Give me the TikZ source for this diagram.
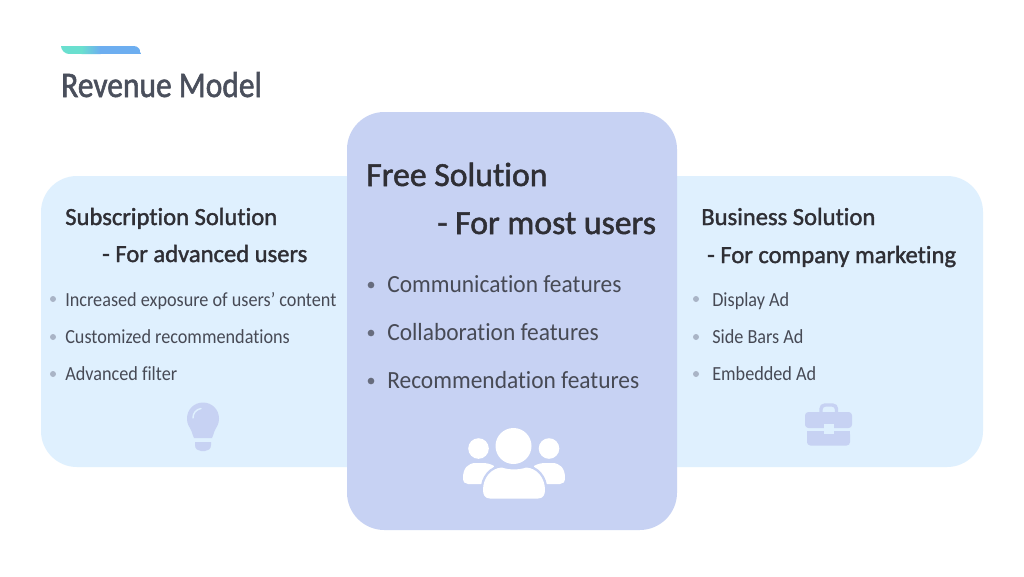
\documentclass[tikz,border=0pt]{standalone}
\usepackage{fontspec}
\setmainfont{Carlito}[RawFeature=-liga]
\newfontfamily\headfont{Carlito}[FakeBold=1.5,RawFeature=-liga]
\newfontfamily\titlefont{Carlito}[FakeBold=1.5,FakeStretch=0.875,RawFeature=-liga]
\newfontfamily\itemfont{Carlito}[FakeStretch=0.91,RawFeature=-liga]
\newfontfamily\bigitemfont{Carlito}[FakeStretch=0.95,RawFeature=-liga]
\definecolor{panelside}{HTML}{DFF0FE}
\definecolor{panelmid}{HTML}{C7D2F3}
\definecolor{titlecol}{HTML}{4A4F5C}
\definecolor{headcol}{HTML}{2F2F35}
\definecolor{bodycol}{HTML}{474A55}
\definecolor{dotcol}{HTML}{A9B4C6}
\definecolor{barteal}{HTML}{6ADFCF}
\definecolor{barblue}{HTML}{6DAEF0}
\tikzset{
  x=0.75pt,y=-0.75pt,
  txt/.style={inner sep=0pt,anchor=base west,text=bodycol},
  head/.style={txt,text=headcol,font=\headfont\fontsize{18.45}{22}\selectfont},
  bighead/.style={txt,text=headcol,font=\headfont\fontsize{25.3}{29}\selectfont},
  item/.style={txt,font=\itemfont\fontsize{15}{18}\selectfont},
  bigitem/.style={txt,font=\bigitemfont\fontsize{18.5}{22}\selectfont},
  dot/.style={circle,fill=dotcol,inner sep=0pt,minimum size=4.5pt},
  bigdot/.style={circle,fill=bodycol!75!panelmid,inner sep=0pt,minimum size=5pt},
  iconside/.style={fill=panelmid,draw=none},
  iconwhite/.style={fill=white,draw=none},
}
\begin{document}
\begin{tikzpicture}
\useasboundingbox (0,0) rectangle (1024,576);
\fill[white] (0,0) rectangle (1024,576);
% accent bar
\begin{scope}
\clip (61,46) -- (134,46) .. controls (138,46) and (141,50) .. (141,54) -- (69,54) .. controls (65,54) and (61,50) .. (61,46) -- cycle;
\fill[barteal] (61,46) rectangle (82,54);
\shade[left color=barteal,right color=barblue] (81.5,46) rectangle (100.5,54);
\fill[barblue] (100,46) rectangle (141,54);
\end{scope}
\node[txt,text=titlecol,font=\titlefont\fontsize{27}{32}\selectfont] (title) at (61,97) {Revenue Model};
% panels
\fill[panelside,rounded corners=27pt] (41,176) rectangle (983,467);
\fill[panelmid,rounded corners=28pt] (347,112) rectangle (677,530);
% left
\node[head] (lh1) at (65,225) {Subscription Solution};
\node[head] (lh2) at (102,262) {- For advanced users};
\node[dot] (ld1) at (53,299) {};
\node[dot] (ld2) at (53,337) {};
\node[dot] (ld3) at (53,374) {};
\node[item] (li1) at (65,306) {Increased exposure of users’ content};
\node[item] (li2) at (65,343) {Customized recommendations};
\node[item] (li3) at (65,380.5) {Advanced filter};
% centre
\node[bighead] (ch1) at (366,186) {Free Solution};
\node[bighead] (ch2) at (437,234) {- For most users};
\node[bigdot] (cd1) at (371,285) {};
\node[bigdot] (cd2) at (371,333) {};
\node[bigdot] (cd3) at (371,381) {};
\node[bigitem] (ci1) at (387,292) {Communication features};
\node[bigitem] (ci2) at (387,340) {Collaboration features};
\node[bigitem] (ci3) at (387,388) {Recommendation features};
% right
\node[head] (rh1) at (701,225) {Business Solution};
\node[head] (rh2) at (707,263) {- For company marketing};
\node[dot] (rd1) at (696,299) {};
\node[dot] (rd2) at (696,337) {};
\node[dot] (rd3) at (696,374) {};
\node[item] (ri1) at (712,306) {Display Ad};
\node[item] (ri2) at (712,343) {Side Bars Ad};
\node[item] (ri3) at (712,380.5) {Embedded Ad};
% bulb
\fill[iconside] (191.5,431) .. controls (189,426) and (187,424) .. (187,418.5)
  .. controls (187,409.5) and (194,402.5) .. (203,402.5)
  .. controls (212,402.5) and (219,409.5) .. (219,418.5)
  .. controls (219,424) and (217,426) .. (214.5,431)
  .. controls (213.5,434) and (213,436) .. (212,438) -- (194,438)
  .. controls (193,436) and (192.5,434) .. (191.5,431) -- cycle;
\draw[panelside,line width=1.1pt,line cap=round] (193,418) .. controls (193,413) and (196,409.5) .. (201,408.5);
\fill[iconside] (195,442) -- (211,442) -- (211,445) .. controls (211,449) and (208,451) .. (205,451) -- (201,451) .. controls (198,451) and (195,449) .. (195,445) -- cycle;
% briefcase
\draw[panelmid,line width=2.6pt,rounded corners=3pt] (821,414) -- (821,405) -- (836.5,405) -- (836.5,414);
\fill[iconside,rounded corners=2.5pt] (805,412) rectangle (852,428);
\fill[iconside,rounded corners=2.5pt] (807,431) rectangle (850,445.5);
\fill[iconside] (807,431) rectangle (850,436);
\fill[panelside] (824,424) rectangle (833.5,434);
% people
\fill[iconwhite] (513.5,446) circle[radius=18];
\fill[iconwhite] (478.5,448.5) circle[radius=10.3];
\fill[iconwhite] (549,448.5) circle[radius=10.3];
\fill[iconwhite] (463,478) .. controls (463,468) and (468,463) .. (476,463) -- (482,463) .. controls (487,463) and (491,464) .. (494,466) -- (490,484) -- (468,484) .. controls (465,484) and (463,482) .. (463,478) -- cycle;
\fill[iconwhite] (565,478) .. controls (565,468) and (560,463) .. (552,463) -- (546,463) .. controls (541,463) and (537,464) .. (534,466) -- (538,484) -- (560,484) .. controls (563,484) and (565,482) .. (565,478) -- cycle;
\def\bodypath{(483,490) .. controls (483,478) and (491,468) .. (502,467.5) .. controls (508,470) and (520,470) .. (526,467.5) .. controls (537,468) and (545,478) .. (545,490) .. controls (545,495) and (543,498.5) .. (538,498.5) -- (490,498.5) .. controls (485,498.5) and (483,495) .. (483,490) -- cycle}
\draw[panelmid,line width=3.6pt] \bodypath;
\fill[iconwhite] \bodypath;
\end{tikzpicture}
\end{document}
